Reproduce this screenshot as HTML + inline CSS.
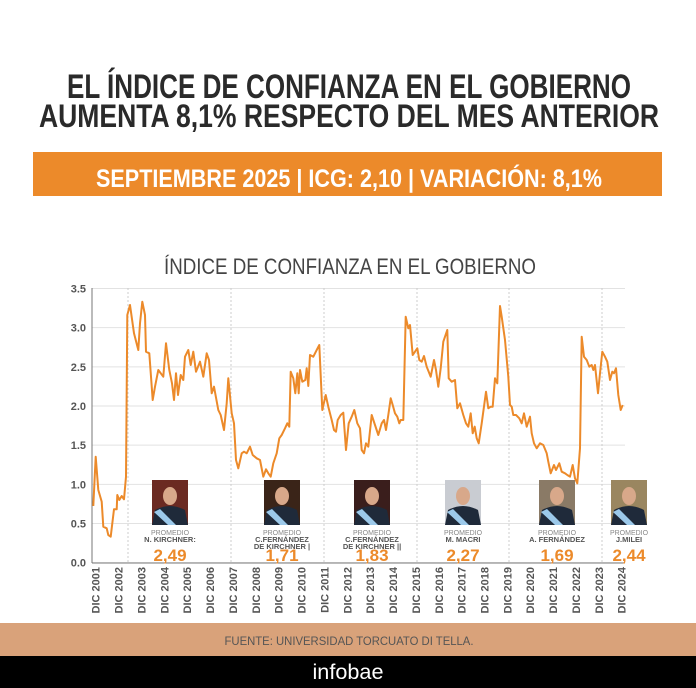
<!DOCTYPE html>
<html><head><meta charset="utf-8">
<style>
html,body{margin:0;padding:0;background:#fff;}
body{width:696px;height:688px;overflow:hidden;position:relative;font-family:"Liberation Sans",sans-serif;}
</style></head>
<body>
<svg id="s" width="696" height="688" viewBox="0 0 696 688" xmlns="http://www.w3.org/2000/svg" style="position:absolute;left:0;top:0">
<rect x="0" y="0" width="696" height="688" fill="#fff"/>
<text x="349" y="98" text-anchor="middle" font-family="Liberation Sans" font-weight="bold" font-size="34" fill="#2a2a2a" textLength="564" lengthAdjust="spacingAndGlyphs">EL ÍNDICE DE CONFIANZA EN EL GOBIERNO</text>
<text x="349" y="127" text-anchor="middle" font-family="Liberation Sans" font-weight="bold" font-size="32" fill="#2a2a2a" textLength="620" lengthAdjust="spacingAndGlyphs">AUMENTA 8,1% RESPECTO DEL MES ANTERIOR</text>
<rect x="33" y="152" width="629" height="44" fill="#ec8a2a"/>
<text x="349" y="187" text-anchor="middle" font-family="Liberation Sans" font-weight="bold" font-size="25" fill="#fff" textLength="506" lengthAdjust="spacingAndGlyphs">SEPTIEMBRE 2025 | ICG: 2,10 | VARIACIÓN: 8,1%</text>
<text x="350" y="274" text-anchor="middle" font-family="Liberation Sans" font-size="22" fill="#444" textLength="372" lengthAdjust="spacingAndGlyphs">ÍNDICE DE CONFIANZA EN EL GOBIERNO</text>
<g id="chart"></g>
<rect x="0" y="623" width="696" height="33" fill="#d9a27a"/>
<text x="349" y="645" text-anchor="middle" font-family="Liberation Sans" font-size="12" fill="#555" textLength="249" lengthAdjust="spacingAndGlyphs">FUENTE: UNIVERSIDAD TORCUATO DI TELLA.</text>
<rect x="0" y="656" width="696" height="32" fill="#000"/>
<text x="348" y="679" text-anchor="middle" font-family="Liberation Sans" font-size="21" fill="#fff" textLength="71" lengthAdjust="spacingAndGlyphs">infobae</text>
</svg>
<script>
var NS="http://www.w3.org/2000/svg",g=document.getElementById("chart"),h="";
var y0=562.7,u=78.35;
for(var i=0;i<=7;i++){var v=i*0.5,y=y0-v*u;
 h+='<line x1="92" x2="625" y1="'+y+'" y2="'+y+'" stroke="#e2e2e2" stroke-width="1"/>';
 h+='<text x="86" y="'+(y+4)+'" text-anchor="end" font-size="11" font-weight="bold" fill="#555">'+v.toFixed(1)+'</text>';}
[128,231,324,417,509,602].forEach(function(x){h+='<line x1="'+x+'" x2="'+x+'" y1="288" y2="562" stroke="#ccc" stroke-dasharray="2,2"/>';});
h+='<line x1="92" x2="92" y1="288" y2="563" stroke="#777"/><line x1="92" x2="625" y1="563" y2="563" stroke="#777"/>';
for(var k=0;k<24;k++){var x=95.7+22.87*k;
 h+='<text transform="translate('+(x+4)+',567) rotate(-90)" text-anchor="end" font-size="11" font-weight="bold" fill="#555">DIC '+(2001+k)+'</text>';}
var a=[[100,678],[107,530],[115,630],[125,665],[130,740],[140,745],[145,765],[152,770],[162,688],[170,688],[172,645],[178,660],[185,648],[192,658],[198,590],[202,105],[210,75],[222,160],[235,210],[240,130],[247,65],[255,105],[258,215],[268,220],[278,360],[285,320],[295,270],[310,290],[318,190],[328,270],[336,310],[342,360],[348,280],[354,345],[362,285],[370,300],[375,230],[385,210],[392,255],[400,215],[408,275],[420,245],[430,290],[440,220],[447,240],[455,340],[462,320],[475,390],[482,405],[492,450],[500,370],[505,295],[515,400],[522,430],[528,540],[535,565],[545,520],[552,515],[560,520],[570,500],[578,525],[590,535],[600,540],[610,590],[618,568],[625,580],[632,590],[640,550],[650,520],[658,475],[665,465],[675,445],[682,430],[688,440],[692,275],[700,295],[706,340],[712,280],[716,340],[720,270],[727,305],[736,300],[740,265],[745,318],[750,225],[760,230],[770,210],[778,195],[787,390],[797,345],[805,380],[815,420],[822,450],[828,455],[833,420],[842,405],[850,398],[858,510],[866,430],[875,410],[883,390],[892,430]];
var b=[[0,445],[5,510],[12,520],[18,490],[25,500],[35,405],[45,435],[55,465],[65,430],[72,420],[78,450],[85,405],[92,355],[98,375],[105,400],[112,410],[118,430],[122,420],[130,420],[137,110],[145,145],[150,135],[158,225],[165,215],[172,205],[178,240],[185,245],[192,228],[200,260],[212,290],[222,240],[228,270],[235,320],[242,265],[250,185],[262,150],[266,295],[275,305],[285,300],[292,385],[300,370],[310,405],[318,430],[325,440],[332,400],[338,460],[344,440],[350,475],[356,490],[365,430],[378,335],[385,385],[392,380],[398,380],[405,295],[412,310],[420,78],[425,110],[435,180],[445,290],[450,375],[455,380],[460,405],[468,405],[478,415],[485,430],[492,400],[500,440],[510,410],[515,460],[522,490],[530,505],[540,490],[550,495],[560,520],[565,545],[572,580],[582,555],[588,570],[598,550],[605,575],[615,580],[622,585],[630,590],[638,555],[645,595],[652,610],[660,505],[665,170],[672,230],[680,240],[688,260],[695,255],[700,270],[705,255],[714,340],[720,280],[727,215],[735,230],[742,245],[750,300],[757,275],[762,280],[768,265],[775,345],[782,390],[788,375]];
var pts=a.map(function(p){return (60+p[0]/3).toFixed(1)+','+(280+p[1]/3).toFixed(1);}).concat(b.map(function(p){return (360+p[0]/3).toFixed(1)+','+(280+p[1]/3).toFixed(1);}));
h+='<polyline points="'+pts.join(' ')+'" fill="none" stroke="#ec8a2a" stroke-width="2" stroke-linejoin="round"/>';
var P=[[170,["N. KIRCHNER:"],"2,49","#6b2a22"],[282,["C.FERNÁNDEZ","DE KIRCHNER |"],"1,71","#3a2418"],[372,["C.FERNÁNDEZ","DE KIRCHNER ||"],"1,83","#3a1e1c"],[463,["M. MACRI"],"2,27","#c9ccd2"],[557,["A. FERNÁNDEZ"],"1,69","#8a7a66"],[629,["J.MILEI"],"2,44","#9a8660"]];
P.forEach(function(p){var x=p[0];
 h+='<rect x="'+(x-18)+'" y="480" width="36" height="45" fill="'+p[3]+'"/>';
 h+='<ellipse cx="'+x+'" cy="496" rx="7" ry="9" fill="#d8a88a"/>';
 h+='<path d="M'+(x-18)+',525 L'+(x-15)+',510 Q'+x+',502 '+(x+15)+',510 L'+(x+18)+',525Z" fill="#1f2a3a"/>';
 h+='<path d="M'+(x-16)+',512 L'+(x-10)+',509 L'+(x+6)+',525 L'+(x-2)+',525Z" fill="#9cc9ea"/>';
 h+='<text x="'+x+'" y="535" text-anchor="middle" font-size="7" fill="#888">PROMEDIO</text>';
 p[1].forEach(function(t,j){h+='<text x="'+x+'" y="'+(542+j*7)+'" text-anchor="middle" font-size="7.5" font-weight="bold" fill="#555">'+t+'</text>';});
 h+='<text x="'+x+'" y="561" text-anchor="middle" font-size="17" font-weight="bold" fill="#ec8a2a">'+p[2]+'</text>';});
g.innerHTML=h;
</script>
</body></html>
